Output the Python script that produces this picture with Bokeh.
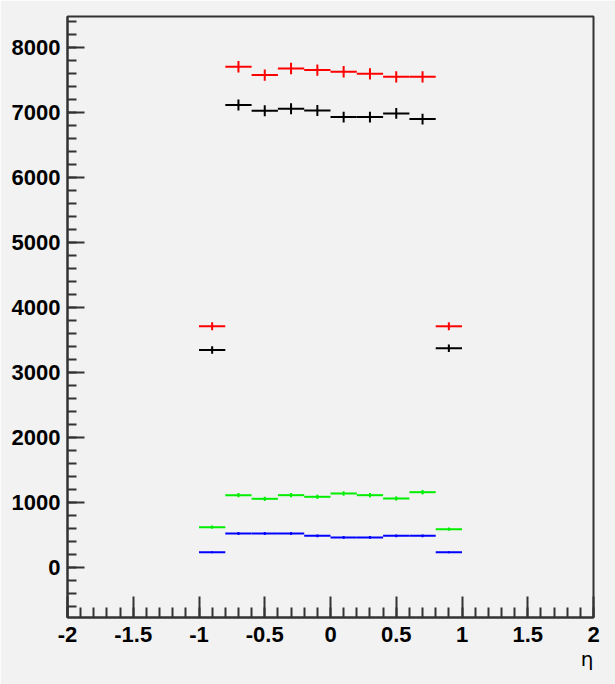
import numpy as np
from bokeh.plotting import figure
from bokeh.models import SingleIntervalTicker, CustomJSTickFormatter, Title, Range1d
from bokeh.embed import file_html
from bokeh.resources import INLINE

# bin centres (eta) and half width
eta_centers = [-0.9, -0.7, -0.5, -0.3, -0.1, 0.1, 0.3, 0.5, 0.7, 0.9]
half_width = 0.1

red_counts = [3708, 7703, 7575, 7677, 7652, 7626, 7595, 7549, 7549, 3708]
black_counts = [3344, 7114, 7026, 7057, 7031, 6929, 6929, 6985, 6898, 3370]
green_counts = [615, 1108, 1052, 1108, 1083, 1134, 1108, 1057, 1154, 585]
blue_counts = [231, 518, 518, 518, 482, 457, 457, 482, 482, 231]

series = [
    (red_counts, "#ff0000"),
    (black_counts, "#000000"),
    (green_counts, "#00ee00"),
    (blue_counts, "#0000ff"),
]

BG = "#f2f2f2"

p = figure(width=615, height=684, output_backend="svg", toolbar_location=None,
           x_range=Range1d(-2, 2), y_range=Range1d(-775, 8477),
           background_fill_color=BG, border_fill_color=BG,
           min_border_left=67, min_border_right=22, min_border_top=16, min_border_bottom=67)
p.grid.visible = False
p.outline_line_color = "#333333"
p.outline_line_width = 2

x = np.array(eta_centers)
for counts, color in series:
    y = np.array(counts, dtype=float)
    err = np.sqrt(y)
    p.segment(x0=x - half_width, x1=x + half_width, y0=y, y1=y,
              line_color=color, line_width=2)
    p.segment(x0=x, x1=x, y0=y - err, y1=y + err,
              line_color=color, line_width=2)

for ax in (p.xaxis[0], p.yaxis[0]):
    ax.axis_line_color = "#333333"
    ax.axis_line_width = 2
    ax.major_tick_line_color = "#333333"
    ax.minor_tick_line_color = "#333333"
    ax.major_tick_line_width = 2
    ax.minor_tick_line_width = 2
    ax.major_tick_out = 0
    ax.minor_tick_out = 0
    ax.major_label_text_font = "Liberation Sans"
    ax.major_label_text_font_style = "bold"
    ax.major_label_text_font_size = "22px"
    ax.major_label_text_color = "#000000"

p.xaxis.ticker = SingleIntervalTicker(interval=0.5, num_minor_ticks=5)
p.xaxis.major_tick_in = 21
p.xaxis.minor_tick_in = 10
p.xaxis.major_label_standoff = 9
p.xaxis.formatter = CustomJSTickFormatter(code="return Number(tick.toFixed(2)).toString();")

p.yaxis.ticker = SingleIntervalTicker(interval=1000, num_minor_ticks=5)
p.yaxis.major_tick_in = 17
p.yaxis.minor_tick_in = 9
p.yaxis.major_label_standoff = 7
p.yaxis.formatter = CustomJSTickFormatter(code="return Number(tick.toFixed(0)).toString();")

eta_title = Title(text="η", align="right", text_font="DejaVu Sans", text_font_size="20px",
                  text_font_style="normal", text_color="#000000", standoff=0, offset=0)
p.add_layout(eta_title, "below")

open("out.html", "w").write(file_html(p, INLINE))
